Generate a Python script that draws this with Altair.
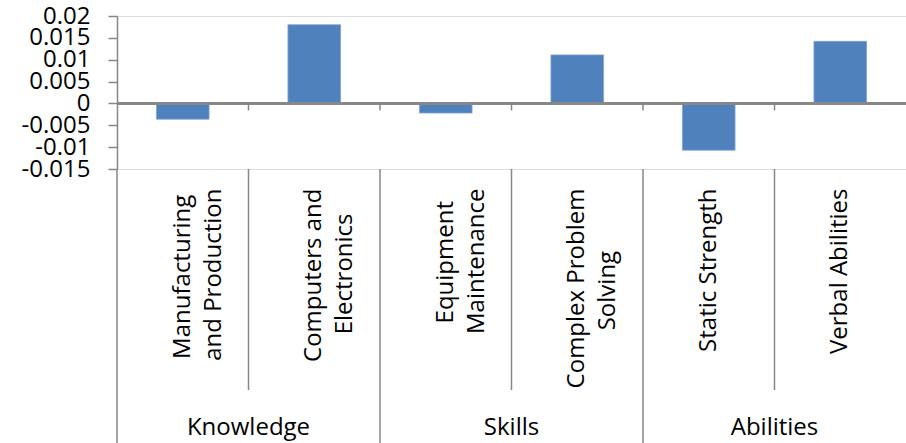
import json
import altair as alt
import pandas as pd

groups = ["Knowledge", "Knowledge", "Skills", "Skills", "Abilities", "Abilities"]
categories = [
    "Manufacturing and Production",
    "Computers and Electronics",
    "Equipment Maintenance",
    "Complex Problem Solving",
    "Static Strength",
    "Verbal Abilities",
]
# wrapped tick labels (lines), as shown under the axis
label_lines = [
    ["Manufacturing", "and Production"],
    ["Computers and", "Electronics"],
    ["Equipment", "Maintenance"],
    ["Complex Problem", "Solving"],
    ["Static Strength"],
    ["Verbal Abilities"],
]
values = [-0.0036, 0.0180, -0.0022, 0.0111, -0.0107, 0.0142]
y_ticks = [-0.015, -0.01, -0.005, 0, 0.005, 0.01, 0.015, 0.02]

GRAY = "#878787"
BLUE = "#4F81BD"
FONT = "Open Sans"
W, H = 789, 153

# rough Open Sans advance widths (em) to centre the wrapped lines of a label
_w = {' ': .26, 'a': .556, 'b': .613, 'c': .48, 'd': .613, 'e': .56, 'f': .336, 'g': .546,
      'i': .258, 'l': .258, 'm': .93, 'n': .613, 'o': .6, 'p': .613, 'q': .613, 'r': .4,
      's': .478, 't': .356, 'u': .613, 'v': .5, 'x': .52, 'C': .633, 'E': .556, 'M': .894,
      'P': .603, 'S': .55}
def _len(s):
    return sum(_w.get(ch, .58) for ch in s)

NBSP = "\u00a0"
ZWSP = "\u200b"
label_map = {}
for cat, lines in zip(categories, label_lines):
    longest = max(_len(l) for l in lines)
    out = []
    for l in lines:
        n = int(round((longest - _len(l)) / 2 / 0.26))
        out.append(l + NBSP * n + (ZWSP if n else ""))
    label_map[cat] = out

df = pd.DataFrame({"category": categories, "group": groups, "value": values})

bounds = []
for i, c in enumerate(categories):
    if i == 0:
        kind = "edge"
    elif groups[i] != groups[i - 1]:
        kind = "major"
    else:
        kind = "minor"
    bounds.append({"category": c, "kind": kind})
bdf = pd.DataFrame(bounds)

glabels = []
for g in dict.fromkeys(groups):
    first = categories[groups.index(g)]
    glabels.append({"category": first, "group": g})
gdf = pd.DataFrame(glabels)

xscale = alt.Scale(domain=categories, paddingInner=0, paddingOuter=0)
yscale = alt.Scale(domain=[-0.015, 0.02], nice=False, zero=False)

xaxis = alt.Axis(title=None, labelExpr=json.dumps(label_map, ensure_ascii=False) + "[datum.label]")
yaxis = alt.Axis(title=None, values=y_ticks, labelExpr="toString(datum.value)")

bars = alt.Chart(df).mark_bar(width={"band": 0.4}, color=BLUE, stroke="#7FA2CF", strokeWidth=0.8).encode(
    x=alt.X("category:N", scale=xscale, sort=categories, axis=xaxis),
    y=alt.Y("value:Q", scale=yscale, axis=yaxis),
)

zero = alt.Chart(df).mark_rule(color=GRAY, strokeWidth=2).encode(
    y=alt.YDatum(0, scale=yscale, axis=yaxis)
)

inner = bdf[bdf["kind"] != "edge"]
zticks = alt.Chart(inner).mark_rule(color=GRAY, strokeWidth=1.5, y2Offset=7).encode(
    x=alt.X("category:N", scale=xscale, sort=categories, bandPosition=0, axis=xaxis),
    y=alt.YDatum(0, scale=yscale, axis=yaxis),
    y2=alt.Y2Datum(0),
)

minor = alt.Chart(bdf).transform_filter("datum.kind == 'minor'").mark_rule(color=GRAY, strokeWidth=1.5).encode(
    x=alt.X("category:N", scale=xscale, sort=categories, bandPosition=0, axis=xaxis),
    y=alt.value(H),
    y2=alt.value(374),
)

major = alt.Chart(bdf).transform_filter("datum.kind != 'minor'").mark_rule(color=GRAY, strokeWidth=1.5).encode(
    x=alt.X("category:N", scale=xscale, sort=categories, bandPosition=0, axis=xaxis),
    y=alt.value(H),
    y2=alt.value(427),
)

gtext = alt.Chart(gdf).mark_text(fontSize=24, font=FONT, color="#000000", align="center", baseline="middle").encode(
    x=alt.X("category:N", scale=xscale, sort=categories, bandPosition=1, axis=xaxis),
    y=alt.value(412),
    text="group:N",
)

chart = alt.layer(bars, zero, zticks, minor, major, gtext).properties(
    width=W, height=H,
    padding={"left": 117, "top": 16, "right": 0, "bottom": 274},
    autosize=alt.AutoSizeParams(type="none"),
    background="white",
).configure_view(stroke=None).configure(font=FONT).configure_axisX(
    domain=False, ticks=False, labelAngle=-90, labelPadding=19, labelFontSize=24,
    labelLineHeight=31, labelLimit=0, labelOverlap=False, labelColor="#000000",
    labelFont=FONT, grid=False,
).configure_axisY(
    tickSize=9, labelPadding=18, grid=False, domainColor=GRAY, tickColor=GRAY,
    domainWidth=1.5, tickWidth=1.5, labelFontSize=24, labelColor="#000000",
    labelFont=FONT, labelOverlap=False,
)

chart.save("out.html", embed_options={"renderer": "svg", "actions": False})
